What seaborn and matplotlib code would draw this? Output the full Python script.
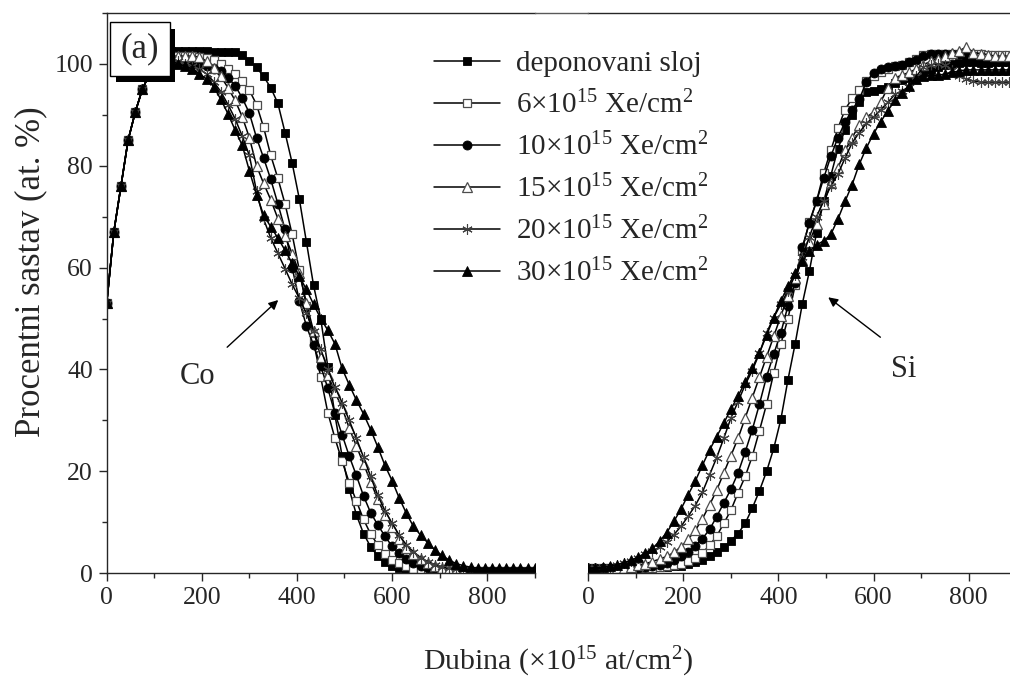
import numpy as np
import pandas as pd
import seaborn as sns
import matplotlib.pyplot as plt
import matplotlib.patheffects as pe
from matplotlib.lines import Line2D
from matplotlib.ticker import MultipleLocator

# =========================
# Data
# =========================

# depth grid, x10^15 at/cm2 (same for Co and Si profile)
depth = list(range(0, 901, 15))

# Co profiles - all curves share the same rising edge near the surface
co_rise = [53, 67, 76, 85, 90.5, 95, 98, 100, 101]

co_dep = co_rise + [102.5, 102.5, 102.5, 102.5, 102.5, 102.5, 102.3, 102.3, 102.3, 102.3,
                    101.8, 100.5, 99.3, 97.5, 95.3, 92.2, 86.5, 80.5, 73.5, 65,
                    56.5, 50, 40.5, 31, 23, 16.5, 11.5, 7.8, 5.2, 3.4,
                    2.3, 1.5, 1.0, 0.7, 0.5] + [0.4] * 17

co_6 = co_rise + [101.5, 101.5, 101.5, 101.5, 101.3, 101.2, 100.8, 100, 99, 98,
                  96.6, 94.8, 92, 87.5, 82, 77.5, 72.5, 66.5, 59.5, 52.5,
                  45.5, 38.5, 31.5, 26.5, 22, 17.8, 14.2, 10.6, 7.7, 5.6,
                  3.8, 2.7, 2.0, 1.4, 0.9, 0.6] + [0.5] * 16

co_10 = co_rise + [101, 100.5, 100.3, 100, 99.8, 99.5, 99, 98.5, 97.3, 95.7,
                   93.3, 90.3, 85.5, 81.5, 77.3, 72.5, 67.5, 60, 53.5, 48.5,
                   44.8, 40.7, 36.3, 31.4, 27.2, 23, 19.2, 15.2, 11.9, 9.5,
                   7.3, 5.3, 3.9, 2.8, 2.0, 1.4, 1.0, 0.8, 0.6] + [0.5] * 13

co_15 = co_rise + [101.5, 101.5, 101.5, 101.5, 101.3, 100.5, 99.2, 97.5, 95.3, 92.8,
                   89.6, 85.5, 80, 76.5, 73.3, 69.6, 66.2, 62.7, 59, 53,
                   47.5, 42.5, 39, 35.5, 32.5, 28.5, 25, 21.5, 18, 14.5,
                   11.5, 9, 6.8, 5, 3.8, 2.8, 2.1, 1.5, 1.1, 0.9,
                   0.7] + [0.6] * 11

co_20 = co_rise + [101, 100.5, 100, 99.6, 99, 98, 96.5, 94.5, 92, 89.2,
                   85.8, 82, 75, 69.5, 65.8, 62.8, 59.8, 56.7, 54, 51,
                   47.5, 44, 40, 36.5, 33.5, 30, 26.5, 22.8, 19, 15.3,
                   12.3, 9.8, 7.5, 5.6, 4.2, 3.1, 2.3, 1.7, 1.3, 1.0,
                   0.8] + [0.6] * 11

co_30 = co_rise + [100.5, 100, 99.5, 99, 98, 97, 95.5, 93, 90.2, 87,
                   84, 79, 74.3, 70.3, 68, 65.8, 63.4, 60.8, 58.3, 55.7,
                   52.8, 50, 47.7, 45, 40.2, 37, 34, 31.3, 28.2, 24.8,
                   21.2, 18.2, 14.8, 11.8, 9.2, 7.5, 6, 4.6, 3.5, 2.6,
                   1.9, 1.5, 1.2] + [1.0] * 9

# Si profiles
si_dep = [0.8, 0.8, 0.8, 0.8, 0.8, 0.8, 0.9, 0.9, 1.0, 1.1,
          1.2, 1.3, 1.4, 1.5, 1.8, 2.2, 2.7, 3.4, 4.2, 5.1,
          6.4, 7.8, 9.8, 12.8, 16.2, 20, 24.5, 30.2, 38, 45,
          52.8, 59.3, 66.8, 73, 78, 83.3, 87, 90, 92.5, 94.5,
          94.7, 95, 95.5, 96.2, 96.8, 97.3, 97.8, 98.3, 98.8, 99.3,
          99.7, 100, 100.2, 100.3, 100.3, 100.2, 100.2, 100.3, 100.3, 100.3,
          100.3]

si_6 = [1.0, 1.0, 1.0, 1.0, 1.0, 1.0, 1.0, 1.0, 1.0, 1.1,
        1.2, 1.4, 1.6, 1.9, 2.4, 3.1, 4.0, 5.5, 7.3, 9.8,
        12.4, 15.8, 19, 23, 28, 33.2, 39.3, 45, 50, 56.5,
        63.5, 69, 73, 78.5, 83, 87.3, 91, 93.2, 94.8, 96.6,
        97.6, 98.4, 99, 99.5, 99.8, 100.3, 101, 101.8, 102, 102,
        102, 102, 102, 102, 102, 102, 101.8, 101.8, 101.8, 101.8,
        101.8]

si_10 = [1.0, 1.0, 1.0, 1.0, 1.0, 1.0, 1.0, 1.0, 1.2, 1.4,
         1.7, 2.1, 2.7, 3.3, 4.2, 5.4, 6.8, 8.6, 11.1, 13.8,
         16.5, 19.7, 23.8, 28.2, 33.2, 38.6, 43, 47.2, 52.5, 57,
         64, 68.7, 73, 77.5, 81.8, 85.5, 88.5, 91, 93, 96.5,
         98.2, 99, 99.3, 99.5, 99.8, 100.3, 100.7, 101.5, 102, 102,
         102, 102, 102, 101.5, 101, 100.8, 100.5, 100.5, 100.5, 100.5,
         100.5]

si_15 = [1.0, 1.0, 1.0, 1.0, 1.0, 1.1, 1.3, 1.6, 1.9, 2.3,
         2.8, 3.3, 4.1, 5.2, 6.7, 8.4, 10.7, 13.4, 16.3, 19.7,
         23.1, 26.5, 30.5, 34.5, 38.5, 42.5, 46.5, 50.5, 54.5, 58,
         61.5, 65, 68.5, 72.5, 76.5, 79.5, 83, 85.5, 88, 89.5,
         90.5, 92.5, 95.3, 97.2, 97.8, 98.3, 99, 99.8, 100.5, 101,
         101.5, 102.2, 102.5, 103.3, 102.2, 102, 101.8, 101.5, 101.5, 101.5,
         101.5]

si_20 = [1.0, 1.0, 1.0, 1.3, 1.6, 2.0, 2.5, 3.1, 3.7, 4.3,
         5.2, 6.2, 7.6, 9.2, 11.2, 13.3, 15.9, 19.3, 22.7, 26.5,
         30.5, 33.7, 37, 39.8, 43.2, 47.2, 50.2, 52.8, 55.5, 58.5,
         62, 66, 70, 73, 76, 78.3, 81.5, 84.5, 86.5, 88.3,
         89.5, 91, 92.4, 94, 94.7, 95.5, 97.5, 99.4, 99.8, 100,
         99.7, 98.8, 97.6, 97, 96.6, 96.4, 96.4, 96.4, 96.4, 96.4,
         96.4]

si_30 = [1.0, 1.1, 1.2, 1.4, 1.7, 2.1, 2.6, 3.2, 4.0, 4.9,
         6.3, 8.0, 10.2, 12.6, 15.4, 18.1, 21.2, 24.2, 26.8, 29.5,
         32.2, 34.8, 37.5, 40.3, 43.3, 46.7, 50.2, 53.5, 56.3, 59,
         61.2, 63.2, 64.5, 65.2, 66.5, 69.5, 73, 76.3, 80.3, 83.5,
         86.3, 88.6, 90.8, 92.8, 94.3, 95.7, 97, 97.5, 97.7, 97.7,
         98, 98.3, 98.6, 98.8, 98.8, 98.8, 98.8, 98.8, 98.8, 98.8,
         98.8]

labels = ['deponovani sloj',
          '6×10$^{15}$ Xe/cm$^{2}$',
          '10×10$^{15}$ Xe/cm$^{2}$',
          '15×10$^{15}$ Xe/cm$^{2}$',
          '20×10$^{15}$ Xe/cm$^{2}$',
          '30×10$^{15}$ Xe/cm$^{2}$']

co_series = [co_dep, co_6, co_10, co_15, co_20, co_30]
si_series = [si_dep, si_6, si_10, si_15, si_20, si_30]

# marker look for each dose
styles = [
    dict(marker='s', markersize=6, markerfacecolor='k', markeredgecolor='k', markeredgewidth=0.6),
    dict(marker='s', markersize=6, markerfacecolor='w', markeredgecolor='0.3', markeredgewidth=0.9),
    dict(marker='o', markersize=6.5, markerfacecolor='k', markeredgecolor='k', markeredgewidth=0.6),
    dict(marker='^', markersize=7, markerfacecolor='w', markeredgecolor='0.3', markeredgewidth=0.9),
    dict(marker=(6, 2, 0), markersize=7.5, markerfacecolor='none', markeredgecolor='0.25', markeredgewidth=0.8),
    dict(marker='^', markersize=7, markerfacecolor='k', markeredgecolor='k', markeredgewidth=0.6),
]

# =========================
# Plot
# =========================
sns.set_style('ticks')
plt.rcParams['font.family'] = ['Liberation Serif', 'DejaVu Serif']
plt.rcParams['mathtext.default'] = 'regular'
plt.rcParams['axes.linewidth'] = 1.0

W, H = 1010, 677
fig = plt.figure(figsize=(W / 100, H / 100), dpi=100)

x0, x1, x2 = 106.7, 534.7, 588.3
ytop, ybot = 12.8, 573.3
ax1 = fig.add_axes([x0 / W, 1 - ybot / H, (x1 - x0) / W, (ybot - ytop) / H])
ax2 = fig.add_axes([x2 / W, 1 - ybot / H, (W - x2) / W, (ybot - ytop) / H])

for lab, co, si, st in zip(labels, co_series, si_series, styles):
    sns.lineplot(x=depth, y=co, ax=ax1, color='k', linewidth=1.1, label=lab,
                 legend=False, sort=False, estimator=None, **st)
    sns.lineplot(x=depth, y=si, ax=ax2, color='k', linewidth=1.1,
                 legend=False, sort=False, estimator=None, **st)

for ax in (ax1, ax2):
    ax.set_ylim(0, 110)
    ax.set_xlabel('')
    ax.set_ylabel('')
    ax.xaxis.set_major_locator(MultipleLocator(200))
    ax.xaxis.set_minor_locator(MultipleLocator(100))
    ax.tick_params(axis='both', which='major', direction='out', length=6, width=1,
                   labelsize=18.5, pad=4)
    ax.tick_params(axis='both', which='minor', direction='out', length=3.5, width=1)
    ax.spines['right'].set_visible(False)
    ax.spines['top'].set_visible(True)

ax1.set_xlim(0, 900)
ax1.yaxis.set_major_locator(MultipleLocator(20))
ax1.yaxis.set_minor_locator(MultipleLocator(10))

ax2.set_xlim(0, 887)
ax2.spines['left'].set_visible(False)
ax2.set_yticks([])

# top frame line runs across the gap between panels
fig.add_artist(Line2D([x1 / W, x2 / W], [1 - ytop / H] * 2, color='0.35', lw=1.0,
                      transform=fig.transFigure))

fig.text(31 / W, 1 - 272 / H, 'Procentni sastav (at. %)', rotation=90, ha='center',
         va='center', fontsize=25)
fig.text(558 / W, 1 - 670 / H, 'Dubina (×10$^{15}$ at/cm$^{2}$)', ha='center',
         va='baseline', fontsize=21.5)

# panel tag with drop shadow
tag = ax1.text(0.078, 0.935, '(a)', transform=ax1.transAxes, ha='center', va='center',
               fontsize=25, zorder=10,
               bbox=dict(boxstyle='square,pad=0.3', fc='w', ec='k', lw=1.0))
tag.get_bbox_patch().set_path_effects([
    pe.SimplePatchShadow(offset=(4, -4.5), shadow_rgbFace='k', alpha=1.0), pe.Normal()])

# element annotations
ax1.annotate('', xy=(365, 54), xytext=(249, 44),
             arrowprops=dict(arrowstyle='-|>', color='k', lw=1.0, mutation_scale=14))
ax1.text(192, 38.7, 'Co', ha='center', va='center', fontsize=22)
ax2.annotate('', xy=(500, 54.5), xytext=(619, 46),
             arrowprops=dict(arrowstyle='-|>', color='k', lw=1.0, mutation_scale=14))
ax2.text(663, 39.9, 'Si', ha='center', va='center', fontsize=22)

handles, labs = ax1.get_legend_handles_labels()
fig.legend(handles, labs, loc='upper left', bbox_to_anchor=(434 / W, 1 - 51 / H),
           frameon=False, fontsize=21, handlelength=2.25, handletextpad=0.55,
           labelspacing=0.46, borderpad=0, borderaxespad=0)

fig.savefig('out.png', dpi=100)
